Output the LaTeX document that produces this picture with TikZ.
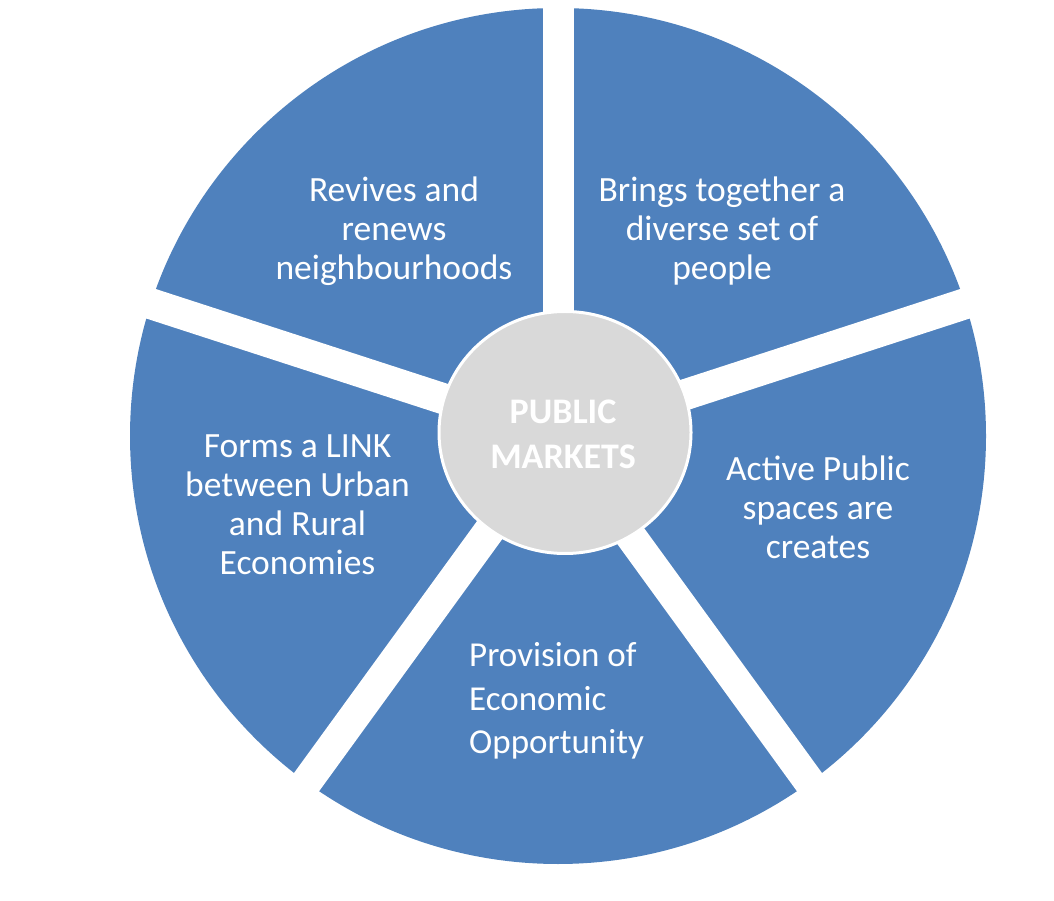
\documentclass[tikz,border=0pt]{standalone}
\usepackage{fontspec}
\setmainfont{Carlito}
\usetikzlibrary{calc,shapes.geometric}
\definecolor{pieblue}{HTML}{4F81BD}
\definecolor{hubgray}{HTML}{D9D9D9}
\begin{document}
\begin{tikzpicture}[x=1pt,y=1pt,
  gap/.style={draw=white,line width=31pt},
  lbl/.style={text=white,align=center,inner sep=0pt,font=\fontsize{35.5}{39}\selectfont},
  hub/.style={ellipse,fill=hubgray,draw=white,line width=3pt,minimum width=252pt,minimum height=242pt,inner sep=0pt}]
\useasboundingbox (0,0) rectangle (1054,900);
\coordinate (C) at (558,464);
\fill[pieblue] (C) circle (428);
\foreach \a/\n in {90/g1,18/g2,-54/g3,-126/g4,162/g5}{
  \coordinate (\n) at ($(C)+(\a:460)$);
  \draw[gap] (C) -- (\n);
}
\node[hub] (hub) at (565,467.5) {};
\node[text=white,align=center,inner sep=0pt,font=\bfseries\fontsize{36}{45}\selectfont] (hubtext) at (563,466) {PUBLIC\\MARKETS};
\node[lbl] (revives) at (394,669) {Revives and\\renews\\neighbourhoods};
\node[lbl] (brings) at (722,669) {Brings together a\\diverse set of\\people};
\node[lbl] (active) at (818,393) {Active Public\\spaces are\\creates};
\node[lbl,align=left,anchor=west,font=\fontsize{35}{43.5}\selectfont] (provision) at (469,199) {Provision of\\Economic\\Opportunity};
\node[lbl] (forms) at (297.5,395) {Forms a LINK\\between Urban\\and Rural\\Economies};
\end{tikzpicture}
\end{document}
